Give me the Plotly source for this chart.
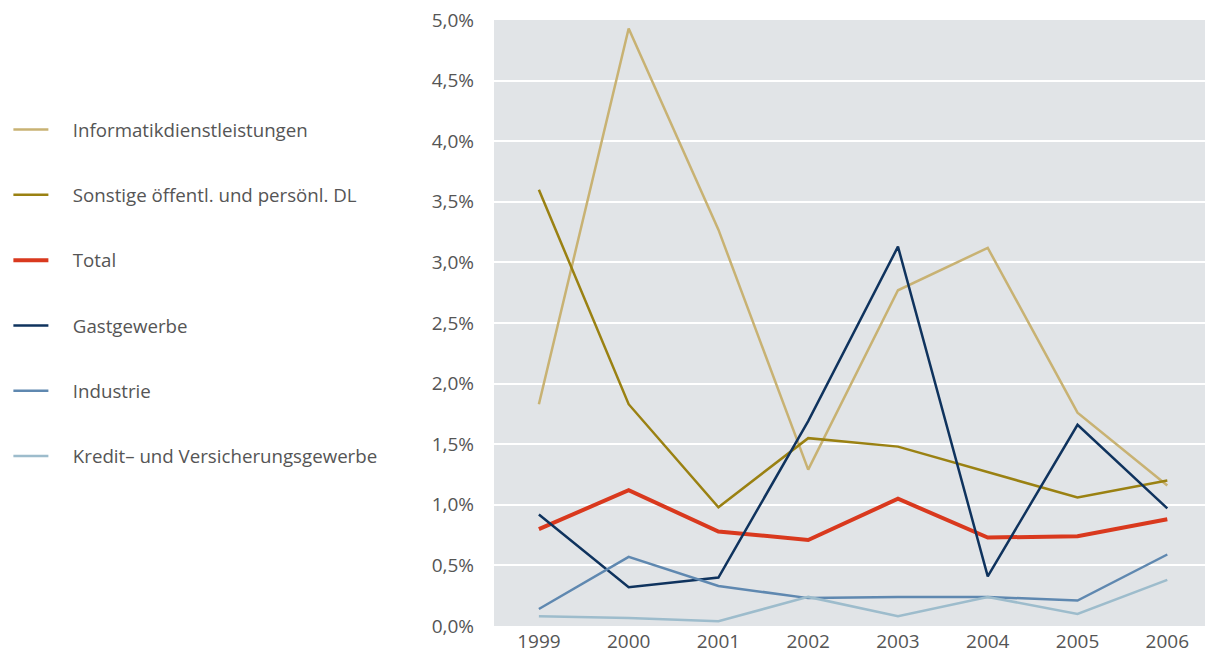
import plotly.graph_objects as go

years = ["1999", "2000", "2001", "2002", "2003", "2004", "2005", "2006"]

informatik = [1.83, 4.93, 3.27, 1.29, 2.77, 3.12, 1.76, 1.16]
sonstige = [3.60, 1.83, 0.98, 1.55, 1.48, 1.27, 1.06, 1.20]
total = [0.80, 1.12, 0.78, 0.71, 1.05, 0.73, 0.74, 0.88]
gastgewerbe = [0.92, 0.32, 0.40, 1.69, 3.13, 0.41, 1.66, 0.97]
industrie = [0.14, 0.57, 0.33, 0.23, 0.24, 0.24, 0.21, 0.59]
kredit = [0.08, 0.065, 0.04, 0.24, 0.08, 0.24, 0.10, 0.38]

series_names = [
    "Informatikdienstleistungen",
    "Sonstige öffentl. und persönl. DL",
    "Total",
    "Gastgewerbe",
    "Industrie",
    "Kredit\u2013 und Versicherungsgewerbe",
]
series_values = [informatik, sonstige, total, gastgewerbe, industrie, kredit]
series_colors = ["#c8b273", "#9a8112", "#d9391e", "#0f335e", "#5f88b0", "#9dbccc"]
series_widths = [2.5, 2.5, 4, 2.5, 2.5, 2.5]

ytick_vals = [0, 0.5, 1.0, 1.5, 2.0, 2.5, 3.0, 3.5, 4.0, 4.5, 5.0]
ytick_text = ["0,0%", "0,5%", "1,0%", "1,5%", "2,0%", "2,5%",
              "3,0%", "3,5%", "4,0%", "4,5%", "5,0%"]

PAD = "\u00a0" * 4

fig = go.Figure()
for name, vals, color, w in zip(series_names, series_values, series_colors, series_widths):
    fig.add_trace(go.Scatter(
        x=years, y=vals, name=PAD + name, mode="lines",
        line=dict(color=color, width=w),
        legendgroup=name,
    ))

fig.update_layout(
    width=1205, height=653,
    margin=dict(l=494, r=0, t=20, b=27),
    paper_bgcolor="white",
    plot_bgcolor="#e1e4e7",
    font=dict(family="Open Sans", size=18, color="#555555"),
    showlegend=True,
    legend=dict(
        x=-0.683, xref="paper", y=0.85, yanchor="top", xanchor="left",
        tracegroupgap=38, bgcolor="rgba(0,0,0,0)",
        font=dict(family="Open Sans", size=18.7, color="#555555"),
        itemwidth=35,
    ),
    xaxis=dict(
        type="category", range=[-0.5, 7.42],
        showgrid=False, zeroline=False, showline=False, automargin=False,
        ticks="", tickfont=dict(size=19), ticklabelstandoff=2,
    ),
    yaxis=dict(
        range=[0, 5.0], tickvals=ytick_vals, ticktext=ytick_text,
        showgrid=True, gridcolor="white", gridwidth=2, automargin=False,
        zeroline=False, showline=False, ticks="",
        tickfont=dict(size=19), ticklabelstandoff=19,
    ),
)
fig.write_html("out.html", config={"displayModeBar": False},
               post_script="document.body.style.margin='0';")
